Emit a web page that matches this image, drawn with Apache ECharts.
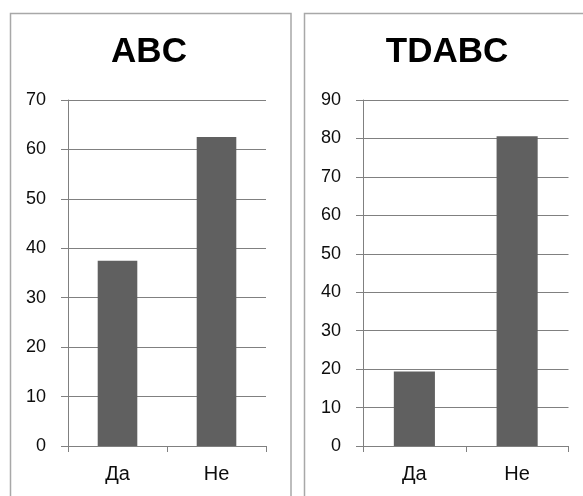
<!DOCTYPE html>
<html>
<head>
<meta charset="utf-8">
<script src="https://cdn.jsdelivr.net/npm/echarts@6/dist/echarts.min.js"></script>
<style>
  html, body { margin: 0; padding: 0; background: #fff; }
  #chart { width: 583px; height: 496px; }
</style>
</head>
<body>
<div id="chart"></div>
<script>
// Answer categories shared by both panels
const categories = ['Да', 'Не'];

// Left panel: ABC
const abcTitle = 'ABC';
const abcValues = [37.5, 62.5];
const abcMax = 70;

// Right panel: TDABC
const tdabcTitle = 'TDABC';
const tdabcValues = [19.4, 80.6];
const tdabcMax = 90;

const yStep = 10;

const FONT = '"Liberation Sans", Arial, sans-serif';
const GRID_GREY = '#808080';
const BAR_GREY = '#606060';
const TEXT = '#0d0d0d';

function xAxis(gridIndex) {
  return {
    type: 'category',
    gridIndex: gridIndex,
    data: categories,
    axisLine: { show: true, lineStyle: { color: GRID_GREY, width: 1 } },
    axisTick: { show: true, length: 6, lineStyle: { color: GRID_GREY } },
    axisLabel: { color: TEXT, fontFamily: FONT, fontSize: 20, margin: 18 }
  };
}

function yAxis(gridIndex, max) {
  return {
    type: 'value',
    gridIndex: gridIndex,
    min: 0,
    max: max,
    interval: yStep,
    axisLine: { show: true, lineStyle: { color: GRID_GREY, width: 1 } },
    axisTick: { show: true, length: 7, lineStyle: { color: GRID_GREY } },
    splitLine: { show: true, lineStyle: { color: GRID_GREY, width: 1 } },
    axisLabel: { color: TEXT, fontFamily: FONT, fontSize: 18, margin: 22 }
  };
}

const chart = echarts.init(document.getElementById('chart'), null, { renderer: 'canvas', devicePixelRatio: 1 });

chart.setOption({
  backgroundColor: '#ffffff',
  animation: false,
  grid: [
    { left: 68, top: 100, right: 317, bottom: 50 },
    { left: 363, top: 100, right: 14.5, bottom: 50 }
  ],
  xAxis: [xAxis(0), xAxis(1)],
  yAxis: [yAxis(0, abcMax), yAxis(1, tdabcMax)],
  series: [
    { type: 'bar', xAxisIndex: 0, yAxisIndex: 0, data: abcValues, barWidth: '40%', itemStyle: { color: BAR_GREY } },
    { type: 'bar', xAxisIndex: 1, yAxisIndex: 1, data: tdabcValues, barWidth: '40%', itemStyle: { color: BAR_GREY } }
  ],
  graphic: [
    // panel frames
    { type: 'rect', shape: { x: 10.5, y: 13.5, width: 280.5, height: 520 },
      style: { fill: null, stroke: '#a8a8a8', lineWidth: 1.5 }, silent: true },
    { type: 'rect', shape: { x: 304.5, y: 13.5, width: 320, height: 520 },
      style: { fill: null, stroke: '#a8a8a8', lineWidth: 1.5 }, silent: true },
    // panel titles
    { type: 'text', x: 149, y: 52,
      style: { text: abcTitle, font: 'bold 35px ' + FONT, fill: '#000', textAlign: 'center', textVerticalAlign: 'middle' } },
    { type: 'text', x: 447, y: 52,
      style: { text: tdabcTitle, font: 'bold 35px ' + FONT, fill: '#000', textAlign: 'center', textVerticalAlign: 'middle' } }
  ]
});
</script>
</body>
</html>
